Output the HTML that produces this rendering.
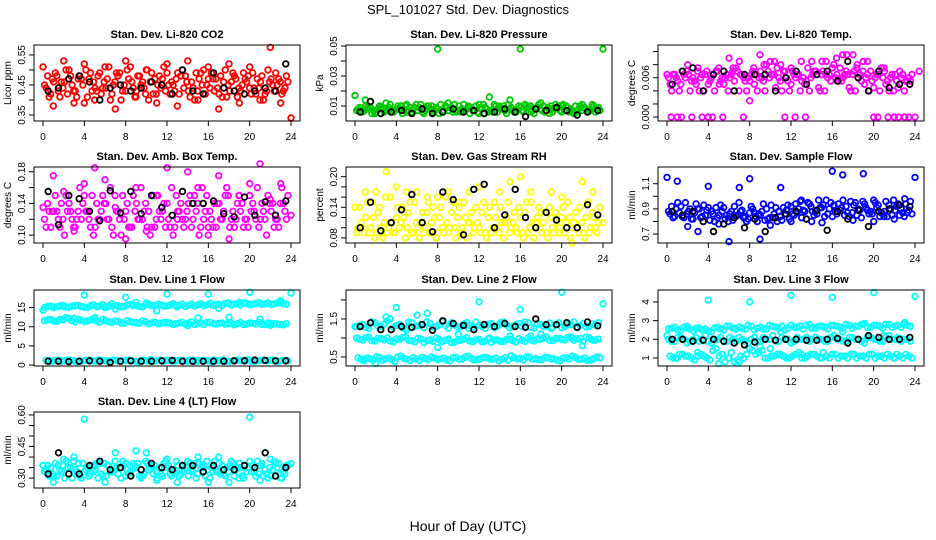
<!DOCTYPE html>
<html><head><meta charset="utf-8"><style>
html,body{margin:0;padding:0;background:#fff;}
svg{display:block;font-family:"Liberation Sans",sans-serif;}
</style></head><body>
<svg id="chart" width="936" height="540" viewBox="0 0 936 540">
<text x="468" y="14" text-anchor="middle" font-size="13">SPL_101027  Std. Dev. Diagnostics</text>
<text x="468" y="531" text-anchor="middle" font-size="14">Hour of Day (UTC)</text>
</svg>
<script>
// ---- data ----
const xTicks=[0,4,8,12,16,20,24];
const co2A=[0.45,0.42,0.48,0.44,0.50,0.43,0.47,0.41,0.46,0.49,0.44,0.42,0.48,0.45,0.51,0.43,0.46,0.40,0.47,0.44,0.49,0.45,0.42,0.48,0.46,0.43,0.50,0.44,0.47,0.41,0.45,0.48,0.43,0.46,0.49,0.44,0.42,0.47,0.45,0.43];
const co2B=[0.48,0.46,0.41,0.50,0.45,0.47,0.39,0.49,0.43,0.44,0.51,0.46,0.40,0.50,0.44,0.48,0.42,0.49,0.45,0.51,0.42,0.47,0.50,0.43,0.40,0.49,0.45,0.47,0.42,0.50,0.46,0.41,0.49,0.44,0.42,0.48,0.50,0.43,0.46,0.48];
const co2D=[0.44,0.47,0.43,0.46,0.48,0.41,0.45,0.47,0.44,0.42,0.47,0.45,0.49,0.43,0.46,0.48,0.44,0.46,0.42,0.47,0.45,0.43,0.48,0.46,0.44,0.47,0.42,0.49,0.44,0.46,0.43,0.47,0.45,0.48,0.44,0.46,0.43,0.45,0.47,0.44];
const co2E=[0.41,0.49,0.46,0.42,0.43,0.48,0.50,0.43,0.48,0.46,0.40,0.49,0.43,0.47,0.41,0.45,0.50,0.42,0.48,0.43,0.46,0.49,0.44,0.41,0.49,0.45,0.47,0.43,0.48,0.41,0.49,0.44,0.47,0.42,0.47,0.40,0.46,0.49,0.42,0.46];
const co2C=[0.51,0.38,0.53,0.39,0.52,0.40,0.51,0.37,0.53,0.41,0.50,0.39,0.52,0.38,0.53,0.40,0.51,0.37,0.52,0.39,0.51,0.40,0.575,0.39,0.34];
const co2K=[0.43,0.44,0.47,0.48,0.46,0.40,0.44,0.45,0.43,0.44,0.46,0.45,0.42,0.50,0.43,0.42,0.49,0.44,0.43,0.42,0.43,0.44,0.43,0.52];
const co2Ticks=[0.35,0.40,0.45,0.50,0.55];
const co2Labels=["0.35","","0.45","","0.55"];

const prA=[0.007,0.006,0.008,0.005,0.009,0.007,0.006,0.008,0.010,0.006,0.007,0.005,0.008,0.009,0.006,0.007,0.011,0.006,0.008,0.007,0.005,0.009,0.007,0.006,0.010,0.008,0.006,0.007,0.009,0.005,0.008,0.007,0.006,0.010,0.007,0.008,0.006,0.009,0.007,0.006];
const prB=[0.009,0.010,0.005,0.008,0.006,0.011,0.008,0.005,0.007,0.009,0.011,0.008,0.006,0.005,0.010,0.009,0.007,0.011,0.005,0.010,0.008,0.006,0.011,0.009,0.005,0.007,0.010,0.011,0.006,0.009,0.010,0.005,0.011,0.006,0.009,0.005,0.010,0.008,0.011,0.009];
const prD=[0.008,0.007,0.009,0.006,0.008,0.009,0.007,0.010,0.006,0.008,0.009,0.007,0.010,0.008,0.007,0.009,0.006,0.008,0.010,0.007,0.009,0.008,0.006,0.010,0.007,0.009,0.008,0.006,0.010,0.008,0.007,0.009,0.008,0.007,0.010,0.006,0.008,0.009,0.007,0.008];
const prE=[0.006,0.009,0.007,0.010,0.007,0.006,0.010,0.007,0.009,0.011,0.006,0.010,0.007,0.011,0.009,0.006,0.010,0.007,0.009,0.006,0.011,0.007,0.010,0.008,0.011,0.006,0.009,0.010,0.007,0.011,0.006,0.010,0.009,0.011,0.006,0.010,0.007,0.006,0.010,0.007];
const prC=[0.017,0.014,0.006,0.012,0.008,0.011,0.007,0.010,0.048,0.012,0.007,0.009,0.011,0.016,0.008,0.014,0.048,0.010,0.012,0.008,0.010,0.007,0.011,0.009,0.048];
const prK=[0.006,0.013,0.005,0.006,0.007,0.005,0.008,0.005,0.006,0.008,0.006,0.007,0.005,0.006,0.008,0.006,0.003,0.008,0.007,0.009,0.007,0.004,0.006,0.007];
const prTicks=[0.01,0.02,0.03,0.04,0.05];
const prLabels=["0.01","","0.03","","0.05"];

const tpA=[0.006,0.0065,0.005,0.007,0.006,0.004,0.0065,0.006,0.007,0.005,0.006,0.0075,0.0065,0.006,0.005,0.007,0.008,0.0065,0.006,0.007,0.005,0.0065,0.006,0.004,0.007,0.0065,0.006,0.008,0.0075,0.007,0.0065,0.006,0.005,0.007,0.0065,0.006,0.004,0.0065,0.006,0.0055];
const tpB=[0.004,0.0055,0.0065,0.004,0.005,0.0065,0.005,0.004,0.0055,0.0065,0.007,0.004,0.0055,0.0065,0.004,0.0055,0.006,0.0045,0.004,0.0055,0.0065,0.004,0.0055,0.0065,0.0045,0.004,0.0055,0.0065,0.006,0.0045,0.004,0.0055,0.0065,0.0045,0.004,0.005,0.0065,0.0045,0.004,0.0055];
const tpE1=[0.005,0.006,0.007,0.0065,0.0055,0.006,0.007,0.0065,0.005,0.006,0.0065,0.007,0.006,0.0055,0.0065,0.006,0.007,0.0065,0.0055,0.006,0.007,0.0065,0.005,0.006,0.0065,0.007,0.0065,0.006,0.0055,0.0065,0.007,0.0065,0.006,0.0055,0.0065,0.007,0.006,0.0055,0.0065,0.006];
const tpE2=[0.0065,0.004,0.006,0.0055,0.007,0.004,0.0055,0.007,0.006,0.004,0.0055,0.0065,0.004,0.007,0.006,0.004,0.0065,0.0075,0.007,0.004,0.006,0.0055,0.0075,0.007,0.004,0.0065,0.0075,0.0055,0.0065,0.004,0.0075,0.007,0.004,0.006,0.0075,0.0055,0.004,0.007,0.0055,0.0065];
const tpC=[0.0065,0,0.008,0.0075,0,0.0075,0.009,0.0085,0.0025,0.0095,0.0085,0.008,0.0075,0.0085,0.0085,0.0085,0.0075,0.0095,0.0095,0.0085,0,0.0075,0,0,0];
const tpD=[0,0,0,0,0,0,0.0075,0,0.0075,0.008,0.0085,0,0,0,0.007,0.0085,0.009,0.0095,0.008,0.0085,0,0,0,0,0.007];
const tpK=[0.005,0.007,0.0075,0.004,0.0065,0.007,0.004,0.0065,0.0065,0.0065,0.004,0.006,0.007,0.005,0.0065,0.007,0.0055,0.0085,0.006,0.004,0.007,0.0045,0.005,0.005];
const tpTicks=[0,0.002,0.004,0.006,0.008,0.010];
const tpLabels=["0.000","","","0.006","",""];

const abA=[0.12,0.11,0.13,0.12,0.14,0.11,0.12,0.13,0.10,0.12,0.14,0.11,0.13,0.12,0.11,0.14,0.12,0.13,0.11,0.12,0.14,0.10,0.13,0.12,0.11,0.14,0.12,0.13,0.11,0.12,0.15,0.11,0.13,0.12,0.14,0.11,0.12,0.13,0.12,0.14];
const abB=[0.14,0.13,0.11,0.15,0.12,0.13,0.15,0.11,0.14,0.15,0.12,0.15,0.10,0.14,0.15,0.12,0.14,0.11,0.15,0.14,0.11,0.15,0.12,0.14,0.15,0.11,0.15,0.11,0.14,0.15,0.12,0.14,0.11,0.15,0.12,0.14,0.15,0.11,0.14,0.12];
const abD=[0.11,0.13,0.12,0.10,0.13,0.12,0.14,0.12,0.11,0.13,0.12,0.10,0.12,0.13,0.11,0.12,0.13,0.10,0.12,0.13,0.12,0.11,0.14,0.13,0.12,0.10,0.13,0.12,0.14,0.13,0.11,0.12,0.14,0.11,0.13,0.12,0.10,0.14,0.11,0.13];
const abE=[0.13,0.15,0.14,0.13,0.11,0.16,0.13,0.15,0.12,0.14,0.16,0.13,0.15,0.11,0.13,0.16,0.11,0.15,0.13,0.11,0.16,0.13,0.11,0.15,0.13,0.16,0.11,0.14,0.12,0.16,0.13,0.15,0.12,0.13,0.16,0.13,0.14,0.12,0.16,0.15];
const abC=[0.135,0.175,0.155,0.105,0.165,0.185,0.170,0.135,0.095,0.160,0.105,0.150,0.185,0.120,0.180,0.160,0.100,0.175,0.095,0.150,0.165,0.190,0.145,0.165,0.125];
const abK=[0.155,0.113,0.150,0.146,0.130,0.118,0.156,0.128,0.155,0.127,0.150,0.135,0.125,0.155,0.140,0.140,0.143,0.127,0.123,0.148,0.125,0.142,0.125,0.143];
const abTicks=[0.10,0.12,0.14,0.16,0.18];
const abLabels=["0.10","","0.14","","0.18"];

const rhA=[0.09,0.10,0.09,0.08,0.10,0.09,0.09,0.10,0.08,0.09,0.10,0.09,0.09,0.08,0.10,0.09,0.10,0.09,0.08,0.09,0.10,0.09,0.09,0.10,0.08,0.09,0.10,0.09,0.09,0.08,0.10,0.09,0.10,0.09,0.09,0.08,0.10,0.09,0.09,0.10];
const rhB=[0.14,0.12,0.15,0.13,0.11,0.16,0.12,0.14,0.13,0.15,0.11,0.13,0.14,0.12,0.16,0.13,0.12,0.15,0.11,0.14,0.13,0.12,0.15,0.14,0.12,0.11,0.14,0.13,0.15,0.12,0.11,0.14,0.13,0.12,0.15,0.11,0.14,0.12,0.13,0.11];
const rhD=[0.10,0.09,0.10,0.09,0.08,0.10,0.09,0.11,0.10,0.09,0.08,0.10,0.11,0.09,0.09,0.10,0.08,0.10,0.11,0.10,0.09,0.08,0.10,0.09,0.11,0.10,0.09,0.08,0.10,0.11,0.09,0.08,0.09,0.10,0.11,0.10,0.09,0.08,0.10,0.09];
const rhE=[0.11,0.15,0.12,0.14,0.16,0.11,0.14,0.12,0.15,0.11,0.13,0.15,0.12,0.14,0.11,0.15,0.14,0.12,0.13,0.11,0.15,0.14,0.12,0.11,0.15,0.13,0.12,0.15,0.11,0.14,0.13,0.12,0.11,0.14,0.12,0.13,0.11,0.15,0.12,0.14];
const rhC=[0.14,0.17,0.17,0.21,0.18,0.17,0.17,0.16,0.16,0.17,0.15,0.17,0.18,0.14,0.17,0.19,0.20,0.17,0.13,0.17,0.16,0.07,0.19,0.17,0.11];
const rhK=[0.10,0.15,0.094,0.11,0.135,0.165,0.11,0.092,0.17,0.155,0.086,0.175,0.185,0.10,0.125,0.175,0.12,0.10,0.13,0.115,0.10,0.10,0.145,0.125];
const rhTicks=[0.08,0.10,0.12,0.14,0.16,0.18,0.20];
const rhLabels=["0.08","","","0.14","","","0.20"];

const sfA=[0.88,0.84,0.92,0.86,0.82,0.90,0.85,0.88,0.83,0.91,0.86,0.84,0.89,0.82,0.87,0.85,0.90,0.83,0.88,0.86,0.92,0.87,0.89,0.94,0.88,0.91,0.86,0.93,0.89,0.92,0.87,0.90,0.94,0.88,0.91,0.86,0.93,0.89,0.90,0.87];
const sfB=[0.92,0.95,0.83,0.90,0.94,0.84,0.91,0.80,0.93,0.85,0.81,0.95,0.84,0.92,0.80,0.94,0.83,0.91,0.81,0.93,0.85,0.96,0.82,0.88,0.97,0.84,0.95,0.86,0.97,0.84,0.95,0.83,0.89,0.97,0.84,0.96,0.85,0.94,0.84,0.96];
const sfD=[0.86,0.90,0.84,0.88,0.87,0.83,0.89,0.86,0.85,0.82,0.88,0.85,0.83,0.87,0.84,0.88,0.82,0.86,0.84,0.89,0.86,0.90,0.88,0.92,0.86,0.93,0.90,0.88,0.91,0.87,0.93,0.89,0.91,0.86,0.93,0.88,0.90,0.92,0.87,0.89];
const sfE=[0.83,0.87,0.95,0.82,0.90,0.93,0.81,0.91,0.88,0.80,0.92,0.88,0.80,0.90,0.86,0.81,0.93,0.80,0.91,0.82,0.94,0.83,0.95,0.85,0.91,0.97,0.84,0.94,0.85,0.96,0.85,0.96,0.86,0.95,0.87,0.84,0.97,0.85,0.94,0.86];
const sfC=[1.15,1.12,0.76,0.72,1.08,0.78,0.64,1.07,1.14,0.66,0.77,1.07,0.80,0.97,0.80,0.79,1.20,1.17,0.81,1.18,0.80,0.84,0.82,0.98,1.15];
const sfK=[0.88,0.85,0.88,0.80,0.72,0.78,0.83,0.75,0.82,0.72,0.83,0.86,0.88,0.82,0.89,0.73,0.88,0.82,0.89,0.76,0.88,0.90,0.93,0.92];
const sfTicks=[0.7,0.8,0.9,1.0,1.1];
const sfLabels=["0.7","","0.9","","1.1"];

const l1A=[15.0,15.4,15.2,15.6,15.1,15.5,15.3,15.0,15.7,15.4,15.2,16.0,15.5,15.3,15.8,15.6,15.2,15.9,15.5,15.7,15.4,16.0,15.6,15.3,15.9,15.7,15.5,16.1,15.8,15.6,16.2,15.9,15.7,16.1,15.9,16.3,16.0,15.8,16.2,16.0];
const l1A2=[15.3,15.1,15.5,15.2,15.4,15.6,15.1,15.5,15.3,15.8,15.4,15.6,15.2,15.7,15.5,15.3,15.8,15.5,15.9,15.4,15.7,15.5,15.9,15.6,15.4,16.0,15.7,15.6,15.9,16.1,15.7,16.0,16.2,15.8,16.1,15.9,16.2,16.0,16.3,15.9];
const l1B=[11.6,11.9,11.4,11.8,12.2,11.3,11.7,11.5,12.0,11.2,11.6,11.1,11.4,10.9,11.3,11.0,11.5,10.8,11.2,10.9,11.1,10.6,11.0,10.7,11.3,10.8,10.6,11.2,10.7,11.0,10.8,10.5,11.1,10.7,10.9,11.2,10.6,10.9,10.7,10.5];
const l1B2=[11.8,11.5,11.9,12.4,11.6,11.9,11.4,11.8,11.5,11.9,11.3,11.5,11.0,11.6,11.2,10.9,11.3,11.0,10.8,11.1,10.9,10.8,11.2,10.9,10.6,11.0,11.1,10.8,10.9,10.7,11.0,10.8,10.6,11.0,10.8,10.6,11.0,10.8,10.6,10.8];
const l1L=[1.2,1.0,1.3,1.1,1.2,0.9,1.1,1.3,1.0,1.2,1.1,1.3,1.0,1.2,1.1,0.9,1.2,1.4,1.1,1.0,1.3,1.1,1.2,1.0,1.3,1.1,1.2,0.9,1.1,1.3,1.0,1.2,1.1,1.4,1.0,1.2,1.1,1.3,1.0,1.2];
const l1L2=[1.1,1.2,1.0,1.3,1.1,1.0,1.2,1.1,1.3,1.1,1.0,1.2,1.1,1.3,1.0,1.2,1.1,1.0,1.3,1.2,1.0,1.2,1.1,1.3,1.0,1.2,1.1,1.3,1.2,1.0,1.1,1.3,1.2,1.0,1.1,1.3,1.2,1.0,1.2,1.1];
const l1C=[14.3,15.0,15.3,12.2,18.3,12.4,15.0,14.6,17.7,16.4,16.2,14.2,18.5,15.2,10.3,12.3,18.5,14.8,12.5,16.4,19.0,12.0,10.4,16.8,18.8];
const l1K=[1.0,1.0,0.9,1.0,1.1,1.0,0.7,1.0,1.1,1.0,1.0,1.1,1.2,1.0,1.0,1.0,1.0,1.0,1.1,1.1,1.3,1.2,1.1,1.1];
const l1Ticks=[0,5,10,15];
const l1Labels=["0","5","10","15"];

const l2A=[1.30,1.35,1.25,1.40,1.30,1.45,1.28,1.36,1.25,1.40,1.32,1.27,1.38,1.30,1.42,1.26,1.35,1.30,1.40,1.28,1.33,1.25,1.38,1.31,1.42,1.27,1.35,1.30,1.40,1.26,1.36,1.32,1.28,1.40,1.30,1.35,1.27,1.38,1.31,1.34];
const l2A2=[1.33,1.28,1.42,1.31,1.37,1.50,1.33,1.27,1.41,1.30,1.36,1.43,1.29,1.35,1.32,1.40,1.28,1.37,1.33,1.42,1.30,1.36,1.27,1.40,1.34,1.30,1.38,1.42,1.28,1.36,1.31,1.39,1.35,1.27,1.36,1.42,1.32,1.29,1.37,1.40];
const l2B=[1.00,0.95,1.02,0.92,0.98,1.00,0.90,0.96,1.03,0.93,0.99,0.88,0.95,1.00,0.91,0.97,0.89,0.94,1.00,0.90,0.96,0.92,0.88,0.95,0.91,0.97,0.89,0.94,1.00,0.92,0.96,1.02,0.93,0.99,0.95,1.03,0.97,0.92,1.00,0.94];
const l2B2=[0.97,1.01,0.93,0.99,0.95,0.92,0.98,1.01,0.94,0.90,0.97,0.93,0.91,0.96,0.94,0.88,0.93,0.97,0.92,0.95,0.90,0.97,0.94,0.91,0.96,0.93,0.98,0.91,0.95,0.97,1.00,0.94,0.98,0.96,1.01,0.94,0.99,1.02,0.95,0.97];
const l2L=[0.48,0.40,0.45,0.50,0.42,0.47,0.38,0.52,0.44,0.48,0.41,0.46,0.50,0.43,0.47,0.40,0.49,0.45,0.52,0.42,0.46,0.49,0.44,0.40,0.48,0.53,0.45,0.42,0.50,0.46,0.43,0.49,0.45,0.40,0.48,0.52,0.44,0.47,0.42,0.50];
const l2L2=[0.44,0.47,0.42,0.49,0.45,0.43,0.50,0.46,0.41,0.45,0.49,0.43,0.47,0.45,0.42,0.48,0.44,0.50,0.46,0.43,0.49,0.45,0.47,0.44,0.42,0.48,0.46,0.50,0.44,0.43,0.48,0.45,0.42,0.47,0.45,0.49,0.44,0.41,0.46,0.48];
const l2C=[1.30,0.45,0.33,1.55,1.80,1.20,1.60,1.65,0.75,0.95,1.10,1.25,1.95,1.00,1.35,1.05,1.75,1.05,1.10,1.25,2.20,1.00,0.80,0.95,1.90];
const l2K=[1.30,1.40,1.22,1.22,1.30,1.28,1.35,1.20,1.45,1.38,1.33,1.22,1.35,1.30,1.38,1.30,1.28,1.50,1.35,1.35,1.40,1.28,1.42,1.32];
const l2Ticks=[0.5,1.0,1.5,2.0];
const l2Labels=["0.5","","1.5",""];

const l3A=[2.55,2.65,2.50,2.70,2.45,2.60,2.55,2.40,2.65,2.50,2.70,2.55,2.60,2.75,2.50,2.65,2.55,2.70,2.60,2.50,2.75,2.65,2.55,2.80,2.60,2.70,2.55,2.75,2.65,2.80,2.60,2.70,2.85,2.65,2.75,2.60,2.80,2.70,2.65,2.75];
const l3A2=[2.60,2.50,2.65,2.55,2.60,2.50,2.45,2.60,2.55,2.70,2.60,2.65,2.55,2.70,2.60,2.55,2.75,2.65,2.70,2.60,2.65,2.70,2.75,2.60,2.70,2.65,2.75,2.70,2.60,2.75,2.70,2.80,2.65,2.75,2.70,2.80,2.65,2.75,2.80,2.70];
const l3B=[2.0,1.9,2.1,1.8,2.0,1.9,2.2,1.8,2.0,1.9,2.1,1.9,2.0,1.8,2.1,1.9,2.0,2.2,1.9,2.0,1.8,2.1,2.0,1.9,2.1,2.0,1.9,2.2,2.0,1.9,2.1,2.0,1.8,2.1,2.0,1.9,2.2,2.0,1.9,2.0];
const l3B2=[1.9,2.1,2.0,1.9,2.1,2.0,1.9,2.0,2.1,1.9,2.0,2.1,1.9,2.0,1.9,2.1,2.0,1.9,2.1,2.0,1.9,2.0,2.1,2.0,2.0,1.9,2.1,2.0,1.9,2.1,2.0,1.9,2.1,2.0,1.9,2.1,2.0,2.1,2.0,1.9];
const l3L=[1.1,1.0,1.2,1.1,0.9,1.2,1.0,1.4,1.1,0.8,1.3,0.9,1.0,1.5,1.2,1.4,1.0,1.1,1.2,1.0,1.1,1.3,1.0,1.2,1.1,1.3,1.0,1.2,1.1,1.0,1.2,1.1,1.0,1.2,1.1,1.0,1.1,1.2,1.0,1.1];
const l3L2=[1.0,1.2,1.1,1.0,1.3,1.1,0.9,1.5,1.2,1.0,0.8,1.1,1.2,1.4,1.3,1.0,1.1,1.2,1.1,1.0,1.2,1.0,1.1,1.2,1.0,1.1,1.2,1.0,1.1,1.2,1.0,1.1,1.2,1.0,1.1,1.2,1.0,1.1,1.2,1.0];
const l3C=[2.2,1.0,2.6,1.1,4.1,0.7,1.0,0.8,4.0,1.6,1.5,2.4,4.35,1.2,2.6,1.0,4.25,2.4,1.2,2.8,4.5,2.2,1.0,2.9,4.3];
const l3K=[2.0,2.0,1.9,1.95,2.0,1.9,1.8,1.7,1.85,2.0,1.95,2.0,2.0,1.95,1.95,2.0,2.05,1.8,2.0,2.2,2.1,2.0,2.0,2.1];
const l3Ticks=[1,2,3,4];
const l3Labels=["1","2","3","4"];

const l4A=[0.33,0.35,0.31,0.36,0.32,0.34,0.30,0.35,0.33,0.37,0.31,0.34,0.32,0.36,0.33,0.35,0.31,0.34,0.36,0.32,0.35,0.33,0.31,0.36,0.34,0.32,0.35,0.30,0.34,0.36,0.33,0.31,0.35,0.33,0.36,0.32,0.34,0.31,0.35,0.33];
const l4B=[0.36,0.31,0.34,0.38,0.30,0.37,0.33,0.32,0.37,0.31,0.36,0.38,0.30,0.34,0.37,0.31,0.38,0.36,0.30,0.37,0.32,0.38,0.34,0.31,0.37,0.35,0.38,0.33,0.37,0.31,0.38,0.35,0.30,0.38,0.31,0.37,0.30,0.38,0.32,0.36];
const l4D=[0.34,0.32,0.36,0.30,0.35,0.33,0.37,0.31,0.34,0.32,0.36,0.33,0.35,0.31,0.34,0.37,0.32,0.35,0.33,0.31,0.36,0.34,0.32,0.35,0.33,0.37,0.31,0.35,0.33,0.32,0.36,0.34,0.31,0.35,0.33,0.36,0.32,0.34,0.37,0.32];
const l4E=[0.31,0.37,0.33,0.35,0.38,0.31,0.34,0.36,0.30,0.37,0.33,0.35,0.38,0.32,0.36,0.30,0.37,0.32,0.35,0.38,0.31,0.36,0.33,0.37,0.30,0.36,0.34,0.38,0.32,0.35,0.37,0.30,0.36,0.33,0.38,0.31,0.35,0.37,0.30,0.36];
const l4C=[0.36,0.28,0.39,0.40,0.58,0.36,0.28,0.42,0.37,0.43,0.42,0.29,0.39,0.28,0.38,0.40,0.28,0.40,0.28,0.37,0.59,0.29,0.39,0.30,0.37];
const l4K=[0.32,0.42,0.32,0.32,0.36,0.38,0.34,0.35,0.31,0.34,0.37,0.35,0.34,0.36,0.36,0.33,0.36,0.34,0.34,0.36,0.35,0.42,0.31,0.35];
const l4Ticks=[0.30,0.35,0.40,0.45,0.50,0.55,0.60];
const l4Labels=["0.30","","","0.45","","","0.60"];

// ---- layout ----
const NS="http://www.w3.org/2000/svg";
const svg=document.getElementById('chart');
function mk(tag,attrs,parent){const e=document.createElementNS(NS,tag);for(const k in attrs)e.setAttribute(k,attrs[k]);(parent||svg).appendChild(e);return e;}
const colX=[34,346,658], rowY=[45,167,290,412], BW=266, BH=76;
const P4=[0,0.5,0.25,0.75], P2=[0,0.5,0,0.5,0.25,0.75];
const panels=[
 {key:'co2',title:'Stan. Dev. Li-820 CO2',yl:'Licor ppm',c:0,r:0,dom:[0.33,0.583],col:'#ff0000',ser:[co2A,co2B,co2D,co2E],ph:P4,out:co2C,blk:co2K,ticks:co2Ticks,labels:co2Labels},
 {key:'pressure',title:'Stan. Dev. Li-820 Pressure',yl:'kPa',c:1,r:0,dom:[0,0.0507],col:'#00c800',ser:[prA,prB,prD,prE],ph:P4,out:prC,blk:prK,ticks:prTicks,labels:prLabels},
 {key:'temp',title:'Stan. Dev. Li-820 Temp.',yl:'degrees C',c:2,r:0,dom:[-0.0006,0.011],col:'#ff00ff',ser:[tpA,tpB,tpE1,tpE2],ph:P4,out:tpC,out2:tpD,blk:tpK,ticks:tpTicks,labels:tpLabels},
 {key:'ambbox',title:'Stan. Dev. Amb. Box Temp.',yl:'degrees C',c:0,r:1,dom:[0.09,0.186],col:'#ff00ff',ser:[abA,abB,abD,abE],ph:P4,out:abC,blk:abK,ticks:abTicks,labels:abLabels},
 {key:'rh',title:'Stan. Dev. Gas Stream RH',yl:'percent',c:1,r:1,dom:[0.070,0.219],col:'#ffff00',ser:[rhA,rhB,rhD,rhE],ph:P4,out:rhC,blk:rhK,ticks:rhTicks,labels:rhLabels},
 {key:'sampleflow',title:'Stan. Dev. Sample Flow',yl:'ml/min',c:2,r:1,dom:[0.629,1.233],col:'#0000ff',ser:[sfA,sfB,sfD,sfE],ph:P4,out:sfC,blk:sfK,ticks:sfTicks,labels:sfLabels},
 {key:'line1',title:'Stan. Dev. Line 1 Flow',yl:'ml/min',c:0,r:2,dom:[-0.25,19.6],col:'#00ffff',ser:[l1A,l1A2,l1B,l1B2,l1L,l1L2],ph:P2,out:l1C,blk:l1K,ticks:l1Ticks,labels:l1Labels},
 {key:'line2',title:'Stan. Dev. Line 2 Flow',yl:'ml/min',c:1,r:2,dom:[0.263,2.26],col:'#00ffff',ser:[l2A,l2A2,l2B,l2B2,l2L,l2L2],ph:P2,out:l2C,blk:l2K,ticks:l2Ticks,labels:l2Labels},
 {key:'line3',title:'Stan. Dev. Line 3 Flow',yl:'ml/min',c:2,r:2,dom:[0.571,4.64],col:'#00ffff',ser:[l3A,l3A2,l3B,l3B2,l3L,l3L2],ph:P2,out:l3C,blk:l3K,ticks:l3Ticks,labels:l3Labels},
 {key:'line4',title:'Stan. Dev. Line 4 (LT) Flow',yl:'ml/min',c:0,r:3,dom:[0.253,0.614],col:'#00ffff',ser:[l4A,l4B,l4D,l4E],ph:P4,out:l4C,blk:l4K,ticks:l4Ticks,labels:l4Labels}
];
panels.forEach(p=>{
 const L=colX[p.c], T=rowY[p.r], R=L+BW, B=T+BH;
 const g=mk('g',{});
 
 
 const xs=h=>L+9+h/24*(BW-18);
 const ys=v=>B-(v-p.dom[0])/(p.dom[1]-p.dom[0])*BH;
 const t=mk('text',{x:L+BW/2,y:T-7,'text-anchor':'middle','font-size':'11','font-weight':'bold'},g);
 t.textContent=p.title;
 
 
 const yl=mk('text',{x:0,y:0,transform:`translate(${L-23},${T+BH/2}) rotate(-90)`,'text-anchor':'middle','font-size':'10'},g);
 yl.textContent=p.yl;
 
 
 const clip=mk('g',{},g);
 const dot=(h,v,color)=>{
  const c=mk('circle',{cx:xs(h).toFixed(1),cy:ys(v).toFixed(1),r:2.8,fill:'none',stroke:color,'stroke-width':1.8},clip);
  
  
 };
 p.ser.forEach((arr,si)=>{const n=arr.length;arr.forEach((v,i)=>{const h=0.15+(i+p.ph[si])*23.7/n; dot(h,v,p.col);});});
 p.out.forEach((v,i)=>dot(i,v,p.col));
 if(p.out2) p.out2.forEach((v,i)=>dot(i+0.4,v,p.col));
 p.blk.forEach((v,i)=>dot(i+0.5,v,'#000'));
 const box=mk('rect',{x:L,y:T,width:BW,height:BH,fill:'none',stroke:'#000','stroke-width':1},g);
 
 
 xTicks.forEach(h=>{
  mk('line',{x1:xs(h),x2:xs(h),y1:B,y2:B+5,stroke:'#000'},g);
  const tl=mk('text',{x:xs(h),y:B+19,'text-anchor':'middle','font-size':'10'},g);
  tl.textContent=h;
  
  
 });
 p.ticks.forEach((v,i)=>{
  const y=ys(v);
  mk('line',{x1:L-5,x2:L,y1:y,y2:y,stroke:'#000'},g);
  if(p.labels[i]){
   const tl=mk('text',{x:0,y:0,transform:`translate(${L-9},${y}) rotate(-90)`,'text-anchor':'middle','font-size':'10'},g);
   tl.textContent=p.labels[i];
   
   
  }
 });
});
</script>
</body></html>
